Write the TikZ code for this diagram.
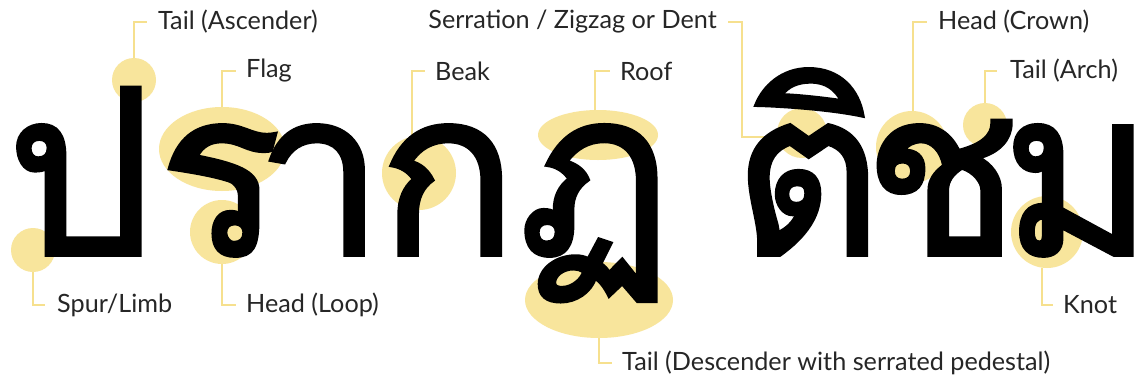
\documentclass[tikz,border=0pt]{standalone}
\usepackage{fontspec}
\setmainfont{Lato}
\newfontfamily\thaifont[Script=Thai,FakeBold=1.5]{Loma}
\definecolor{hl}{HTML}{F8E59C}
\definecolor{ld}{HTML}{F6E08E}
\definecolor{tx}{HTML}{262626}
\begin{document}
\begin{tikzpicture}[x=1pt,y=-1pt,
  spot/.style={fill=hl,draw=none},
  lead/.style={draw=ld,line width=1.8pt},
  lbl/.style={anchor=west,inner sep=0pt,text=tx,font=\fontsize{25.2}{25.2}\selectfont},
  glyph/.style={anchor=base,inner sep=0pt,text height=170pt,text depth=0pt,font=\thaifont\fontsize{232}{232}\selectfont}]
\useasboundingbox[fill=white] (0,0) rectangle (1142,383);
% highlights
\fill[spot] (134,80) circle (22);
\fill[spot] (222,149) ellipse (63 and 42);
\fill[spot] (222,232) circle (32);
\fill[spot] (33,250) circle (22);
\fill[spot] (419,173) circle (37);
\fill[spot] (598,135) ellipse (60 and 25);
\fill[spot] (599,300) ellipse (74 and 38);
\fill[spot] (802,133) circle (25);
\fill[spot] (912,147) circle (36);
\fill[spot] (985,125) circle (22);
\fill[spot] (1047,232) circle (36);
% anchor coordinates
\coordinate (sA) at (134,58);
\coordinate (sF) at (222,107);
\coordinate (sS) at (33,272);
\coordinate (sH) at (222,264);
\coordinate (sB) at (412,137);
\coordinate (sR) at (595,110);
\coordinate (sZ) at (778,137);
\coordinate (sD) at (599,338);
\coordinate (sC) at (913,111);
\coordinate (sT) at (985,103);
\coordinate (sK) at (1042,268);
% labels
\node[lbl] (lA) at (158,22) {Tail (Ascender)};
\node[lbl] (lF) at (246,71) {Flag};
\node[lbl] (lS) at (57,305) {Spur/Limb};
\node[lbl] (lH) at (246,305) {Head (Loop)};
\node[lbl] (lB) at (435,71) {Beak};
\node[lbl] (lR) at (620,71) {Roof};
\node[lbl,anchor=east] (lZ) at (717,22) {Serration / Zigzag or Dent};
\node[lbl] (lD) at (622,363) {Tail (Descender with serrated pedestal)};
\node[lbl] (lC) at (938,22) {Head (Crown)};
\node[lbl] (lT) at (1010,71) {Tail (Arch)};
\node[lbl] (lK) at (1063,305) {Knot};
% leaders
\draw[lead] (sA) |- ([xshift=-11pt]lA.west);
\draw[lead] (sF) |- ([xshift=-10pt]lF.west);
\draw[lead] (sS) |- ([xshift=-12pt]lS.west);
\draw[lead] (sH) |- ([xshift=-10pt]lH.west);
\draw[lead] (sB) |- ([xshift=-10pt]lB.west);
\draw[lead] (sR) |- ([xshift=-10pt]lR.west);
\draw[lead] ([xshift=11pt]lZ.east) -| (742,137) -- (sZ);
\draw[lead] (sD) |- ([xshift=-10pt]lD.west);
\draw[lead] (sC) |- ([xshift=-11pt]lC.west);
\draw[lead] (sT) |- ([xshift=-13pt]lT.west);
\draw[lead] (sK) |- ([xshift=-10pt]lK.west);
% Thai glyphs
\node[glyph] (g1) at (80,255) {ป};
\node[glyph] (g2) at (220,255) {ร};
\node[glyph] (g3) at (320,255) {า};
\node[glyph] (g4) at (448,255) {ก};
\node[glyph,text depth=60pt] (g5) at (595,255) {ฏ};
\node[glyph] (g6) at (808,255) {ติ};
\node[glyph] (g7) at (942,255) {ช};
\node[glyph] (g8) at (1078,255) {ม};
\end{tikzpicture}
\end{document}
